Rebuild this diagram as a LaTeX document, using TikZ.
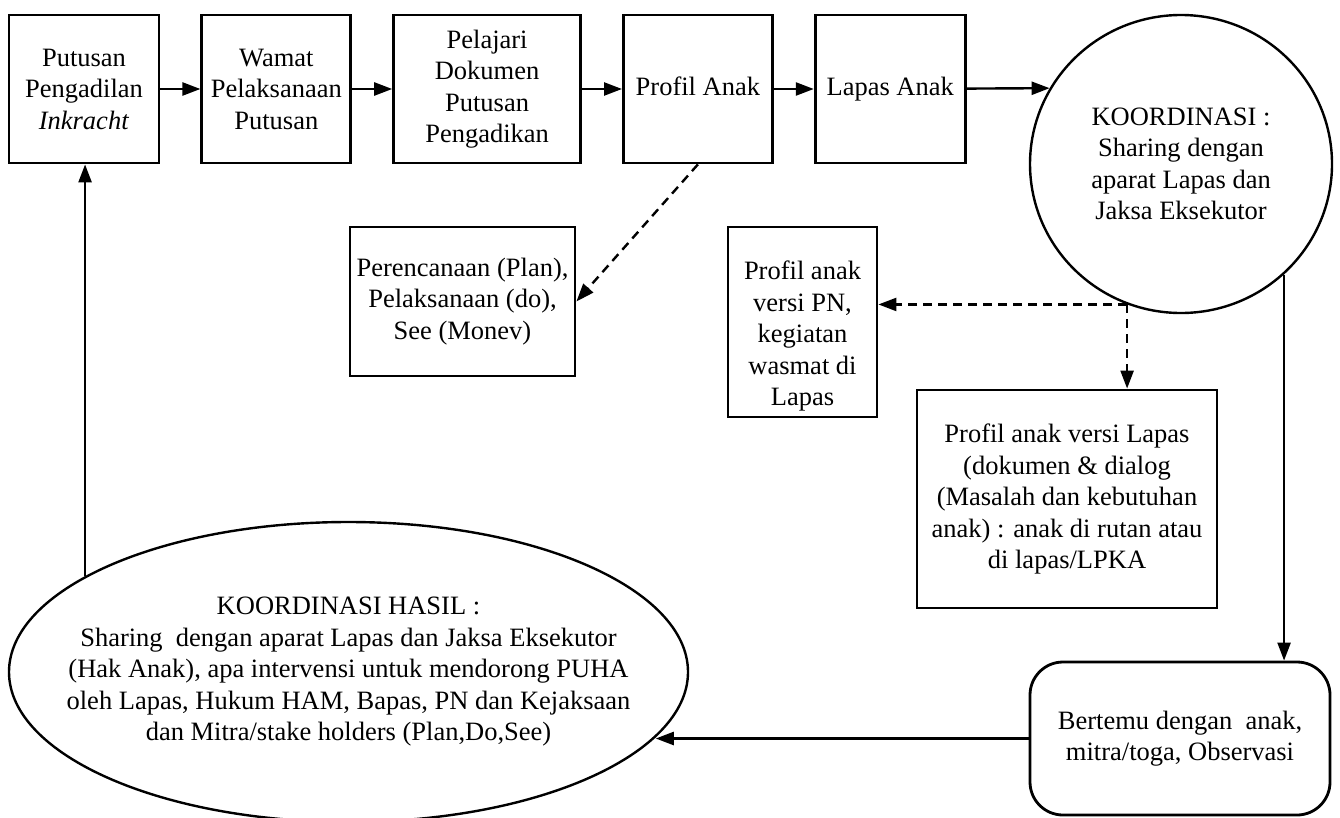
\documentclass[tikz,border=0pt]{standalone}
\usepackage{fontspec}
\setmainfont{Liberation Serif}
\usepackage{tikz}
\usetikzlibrary{positioning}
\usetikzlibrary{shapes.geometric,arrows.meta}

\begin{document}
\begin{tikzpicture}[x=1pt,y=-1pt,node distance=40pt,line width=2.4pt,
    >={Triangle[length=18pt,width=13pt]},
    every node/.style={font=\fontsize{26.5}{31.5}\selectfont}]
    \tikzset{box/.style={draw,rectangle,line width=2.8pt,inner sep=0pt,align=center,minimum height=148pt}}
    \tikzset{oval/.style={draw,ellipse,line width=2.4pt,inner sep=0pt,align=center}}
    \tikzset{dashline/.style={dash pattern=on 9pt off 6pt}}
    \useasboundingbox (0,0) rectangle (1340,817);

    \node[box,minimum width=150pt] (putusan) at (84,89) {Putusan\\Pengadilan\\\textit{Inkracht}};
    \node[box,minimum width=149pt] (wamat) [right = of putusan] {Wamat\\Pelaksanaan\\Putusan};
    \node[box,minimum width=187pt] (pelajari) [right = of wamat] {Pelajari\\Dokumen\\Putusan\\Pengadikan};
    \node[box,minimum width=149pt] (profil) [right = of pelajari] {\strut Profil Anak};
    \node[box,minimum width=150pt] (lapas) [right = of profil] {\strut Lapas Anak};

    \node[oval,minimum width=302pt,minimum height=298pt] (koord) at (1181,164) {KOORDINASI :\\Sharing dengan\\aparat Lapas dan\\Jaksa Eksekutor};

    \node[box,minimum width=225pt,minimum height=149pt] (plan) at (462.5,301.5) {Perencanaan (Plan),\\Pelaksanaan (do),\\See (Monev)};
    \node[box,minimum width=149pt,minimum height=190pt,
      label={[align=center,yshift=-14pt]center:{Profil anak\\versi PN,\\kegiatan\\wasmat di\\Lapas}}] (profilpn) at (802.5,322) {};
    \node[box,minimum width=300pt,minimum height=218pt] (profillapas) at (1067,499) {Profil anak versi Lapas\\(dokumen \& dialog\\(Masalah dan kebutuhan\\anak) : anak di rutan atau\\di lapas/LPKA};
    \node[box,rounded corners=33pt,minimum width=300pt,minimum height=153pt] (bertemu) at (1180,738.5) {Bertemu dengan~ anak,\\mitra/toga, Observasi};

    \node[oval,minimum width=679pt,minimum height=300pt,
      label={[align=center]center:{KOORDINASI HASIL :\\Sharing~ dengan aparat Lapas dan Jaksa Eksekutor\\(Hak Anak), apa intervensi untuk mendorong PUHA\\oleh Lapas, Hukum HAM, Bapas, PN dan Kejaksaan\\dan Mitra/stake holders (Plan,Do,See)}}] (hasil) at (348.5,672) {};

    \coordinate (split) at (koord.249);

    \path[->]
    (putusan) edge (wamat)
    (wamat) edge (pelajari)
    (pelajari) edge (profil)
    (profil) edge (lapas)
    (lapas) edge (koord.150)
    (koord.313) edge (koord.313 |- bertemu.north)
    (bertemu.west) edge (bertemu.west -| hasil.-12)
    (hasil.160.5) edge (hasil.160.5 |- putusan.south)
    ;

    \path[->,dashline]
    (profil.south) edge (plan.east)
    (split) edge (split -| profilpn.east)
    (split) edge (split |- profillapas.north)
    ;
\end{tikzpicture}
\end{document}
